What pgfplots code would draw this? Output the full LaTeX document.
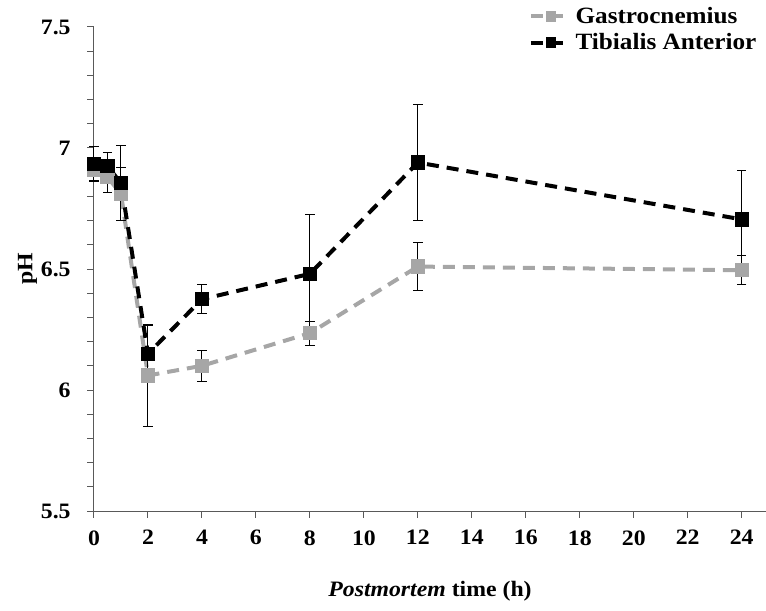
\documentclass[border=0pt]{standalone}
\usepackage{fontspec}
\setmainfont{Liberation Serif}[FakeStretch=1.08]
\usepackage{pgfplots}
\pgfplotsset{compat=1.18}
\definecolor{ggrey}{RGB}{166,166,166}
\definecolor{axgrey}{RGB}{89,89,89}
\pgfplotstableread{
x y e
0 6.91 0.05
0.5 6.88 0.065
1 6.81 0.11
2 6.06 0.21
4 6.10 0.065
8 6.235 0.05
12 6.51 0.10
24 6.495 0.06
}\gastro
\pgfplotstableread{
x y e
0 6.935 0.07
0.5 6.925 0.055
1 6.855 0.155
2 6.15 0.115
4 6.375 0.06
8 6.48 0.245
12 6.94 0.24
24 6.705 0.20
}\tibialis
\begin{document}
\begin{tikzpicture}
\path[use as bounding box] (-70.5pt,-74.25pt) rectangle (504pt,383.25pt);
\begin{axis}[
  at={(0pt,0pt)}, anchor=south west,
  scale only axis, width=504pt, height=363pt,
  xmin=0, xmax=24.9, ymin=5.5, ymax=7.5,
  axis x line=bottom, axis y line=left,
  axis line style={-, axgrey, line width=0.75pt},
  xtick={0,2,...,24},
  ytick={5.5,6,6.5,7,7.5},
  minor y tick num=4,
  tick align=outside, major tick length=5pt, minor tick length=5pt,
  tick style={axgrey, line width=0.75pt},
  /pgf/number format/assume math mode=true,
  tick label style={font=\fontsize{16.5}{20}\selectfont\bfseries},
  xticklabel style={yshift=-6pt},
  yticklabel style={xshift=-9pt},
  label style={font=\fontsize{16.5}{20}\selectfont\bfseries},
  xlabel={\textit{Postmortem} time (h)},
  xlabel style={yshift=-20pt},
  ylabel={pH},
  ylabel style={yshift=-4pt},
  clip=false,
  legend style={at={(1,1)}, anchor=north east, yshift=19pt, xshift=-2pt,
    draw=none, fill=none, font=\fontsize{17.5}{21}\selectfont\bfseries,
    row sep=2pt},
  legend cell align=left,
  legend image code/.code={\draw[#1, mark size=3.5pt, mark repeat=2, mark phase=2] plot coordinates {(0pt,0pt) (15pt,0pt) (30pt,0pt)};},
  every axis plot/.append style={line width=3pt, dash pattern=on 9pt off 6pt, line cap=butt},
]
\addplot[color=ggrey, mark=square*, mark size=5pt, mark options={solid, fill=ggrey, draw=ggrey, line width=0pt},
  error bars/.cd, y dir=both, y explicit,
  error bar style={black, solid, line width=0.75pt},
  error mark options={rotate=90, black, solid, mark size=3.5pt, line width=0.75pt}]
  table[x=x, y=y, y error=e] {\gastro};
\addlegendentry{Gastrocnemius}
\addplot[color=black, mark=square*, mark size=5pt, mark options={solid, fill=black, draw=black, line width=0pt},
  error bars/.cd, y dir=both, y explicit,
  error bar style={black, solid, line width=0.75pt},
  error mark options={rotate=90, black, solid, mark size=3.5pt, line width=0.75pt}]
  table[x=x, y=y, y error=e] {\tibialis};
\addlegendentry{Tibialis Anterior}
\end{axis}
\end{tikzpicture}
\end{document}
